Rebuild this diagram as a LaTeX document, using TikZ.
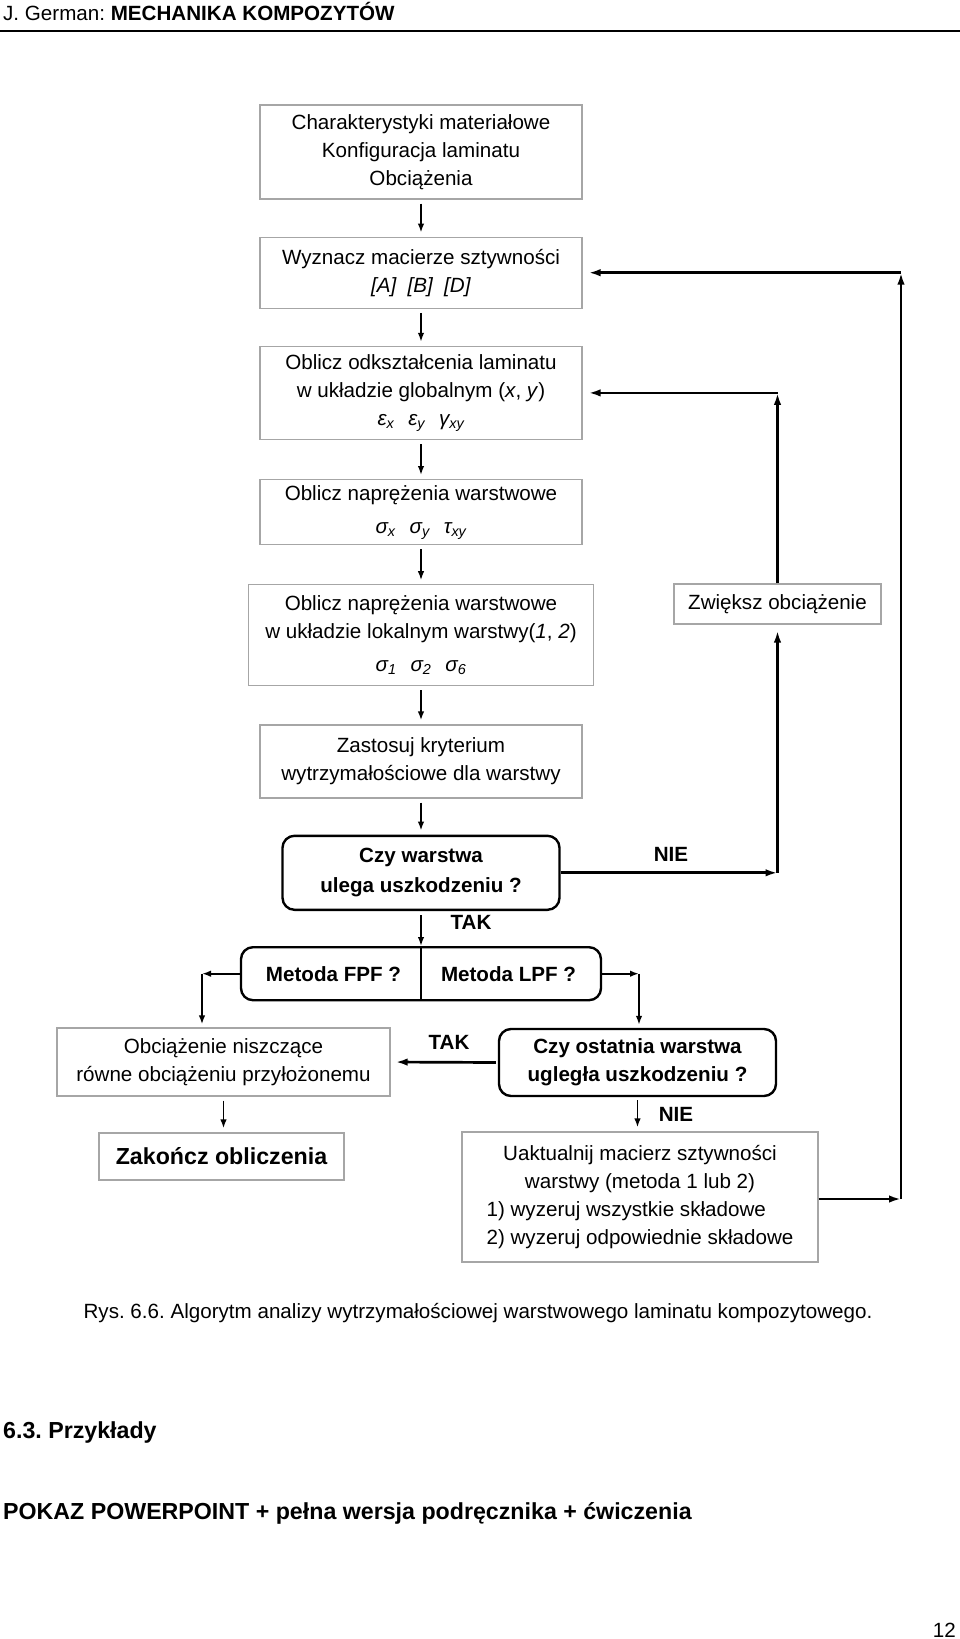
\documentclass[tikz,border=0pt]{standalone}
\usepackage{fontspec}
\setmainfont{Liberation Sans}
\usepackage{tikz}
\usetikzlibrary{positioning,arrows.meta}
\newcommand{\boxfont}{\fontsize{20.6}{28}\selectfont}
\newcommand{\bigfont}{\fontsize{23.2}{30}\selectfont}
\newcommand{\gr}[2]{{\itshape #1}\textsubscript{\itshape #2}}
\frenchspacing

\begin{document}
\begin{tikzpicture}[
            x=1pt, y=-1pt,
            every node/.style={font=\boxfont},
            block/.style={rectangle, draw=black!35, line width=1.2pt, minimum width=322pt, align=center, inner ysep=2pt},
            query/.style={rectangle, draw, rounded corners=12pt, line width=2.4pt, align=center, font=\boxfont\bfseries, inner ysep=2pt},
            answer/.style={font=\boxfont\bfseries},
            arrow/.style={-{Latex[length=9pt,width=6.5pt]}, line width=1.7pt},
            feedback/.style={-{Latex[length=12pt,width=7.5pt]}, line width=2.7pt}
        ]
            \useasboundingbox (0,0) rectangle (960,1639);

            % Header
            \node[anchor=base west, inner sep=0pt] (head) at (3,20.5) {J. German: \textbf{MECHANIKA KOMPOZYTÓW}};
            \draw[line width=2pt] (0,31) -- (960,31);

            % Nodes
            \node[block, minimum height=94pt] (input) at (421,152) {Charakterystyki materiałowe\\Konfiguracja laminatu\\Obciążenia};
            \node[block, minimum height=71pt, below=37pt of input] (stiff) {Wyznacz macierze sztywności\\\textit{[A]}\hspace{11pt}\textit{[B]}\hspace{11pt}\textit{[D]}};
            \node[block, minimum height=93pt, below=37pt of stiff] (strain) {Oblicz odkształcenia laminatu\\w układzie globalnym (\textit{x}, \textit{y})\\\gr{ε}{x}\hspace{14pt}\gr{ε}{y}\hspace{14pt}\gr{γ}{xy}};
            \node[block, minimum height=65pt, below=39pt of strain] (stress) {Oblicz naprężenia warstwowe\\[5pt]\gr{σ}{x}\hspace{14pt}\gr{σ}{y}\hspace{14pt}\gr{τ}{xy}};
            \node[block, minimum width=345pt, minimum height=101pt, below=39pt of stress] (local) {Oblicz naprężenia warstwowe\\w układzie lokalnym warstwy(\textit{1}, \textit{2})\\[5pt]\gr{σ}{1}\hspace{14pt}\gr{σ}{2}\hspace{14pt}\gr{σ}{6}};
            \node[block, minimum height=73pt, below=38pt of local] (crit) {Zastosuj kryterium\\wytrzymałościowe dla warstwy};
            \node[query, minimum width=277pt, minimum height=74pt, below=36pt of crit] (fail) {Czy warstwa\\[2pt]ulega uszkodzeniu ?};
            \node[query, minimum width=360pt, minimum height=53pt, below=35pt of fail] (method) {Metoda FPF ?\hspace{40pt}Metoda LPF ?};

            \node[block, minimum width=207pt, minimum height=40pt] (incr) at (777.5,604) {Zwiększ obciążenie};
            \node[block, minimum width=333pt, minimum height=68pt] (ultload) at (223.5,1062) {Obciążenie niszczące\\równe obciążeniu przyłożonemu};
            \node[block, minimum width=245pt, minimum height=47pt, font=\bigfont\bfseries] (finish) at (221.5,1156.5) {Zakończ obliczenia};
            \node[query, minimum width=277pt, minimum height=67pt] (last) at (637.5,1062.5) {Czy ostatnia warstwa\\ugległa uszkodzeniu ?};
            \node[block, minimum width=356pt, minimum height=130pt] (update) at (640,1197) {\begin{tabular}{@{}l@{}}
                \multicolumn{1}{@{}c@{}}{Uaktualnij macierz sztywności}\\
                \multicolumn{1}{@{}c@{}}{warstwy (metoda 1 lub 2)}\\
                1) wyzeruj wszystkie składowe\\
                2) wyzeruj odpowiednie składowe
            \end{tabular}};

            % Corners
            \coordinate (outerb) at (901,1199);
            \coordinate (outert) at (stiff.east -| outerb);
            \coordinate (innert) at (strain.east -| incr.north);
            \coordinate (innerb) at (fail.east -| incr.south);
            \coordinate (flx) at (202,0);
            \coordinate (fl) at (method.west -| flx);
            \coordinate (frx) at (639,0);
            \coordinate (fr) at (method.east -| frx);

            % Arrows
            \draw[arrow, shorten <=4pt, shorten >=4pt] (input) -- (stiff);
            \draw[arrow, shorten <=4pt, shorten >=4pt] (stiff) -- (strain);
            \draw[arrow, shorten <=4pt, shorten >=4pt] (strain) -- (stress);
            \draw[arrow, shorten <=4pt, shorten >=4pt] (stress) -- (local);
            \draw[arrow, shorten <=4pt, shorten >=4pt] (local) -- (crit);
            \draw[arrow, shorten <=4pt, shorten >=4pt] (crit) -- (fail);
            \draw[arrow, shorten <=4pt] (fail) -- (method);
            \draw[line width=1.5pt] (method.north) -- (method.south);

            \draw[arrow] (method.west) -- (fl);
            \draw[arrow, shorten >=3pt] (fl) -- (fl |- ultload.north);
            \draw[arrow] (method.east) -- (fr);
            \draw[arrow, shorten >=3pt] (fr) -- (fr |- last.north);
            \draw[feedback, shorten <=2pt, shorten >=5pt] (last.west) -- (ultload.east);
            \draw[arrow, shorten <=4pt, shorten >=4pt] (ultload.south) -- (ultload.south |- finish.north);
            \draw[arrow, shorten <=3pt, shorten >=4pt] (last.south) -- (last.south |- update.north);

            \draw[feedback] (update.east |- outerb) -- (outerb);
            \draw[feedback] (outerb) -- (outert);
            \draw[feedback, shorten >=6pt] (outert) -- (stiff.east);
            \draw[feedback] (fail.east) -- (innerb);
            \draw[feedback, shorten >=6pt] (innerb) -- (incr.south);
            \draw[feedback] (incr.north) -- (innert);
            \draw[feedback, shorten >=6pt] (innert) -- (strain.east);

            % Labels
            \node[answer] (nie1) at (671,854) {NIE};
            \node[answer] (tak1) at (471,922) {TAK};
            \node[answer] (tak2) at (449,1042) {TAK};
            \node[answer] (nie2) at (676,1114) {NIE};

            % Text below
            \node (caption) at (478,1313) {Rys. 6.6. Algorytm analizy wytrzymałościowej warstwowego laminatu kompozytowego.};
            \node[anchor=west, font=\bigfont\bfseries, inner sep=0pt] (sect) at (3,1432) {6.3. Przykłady};
            \node[anchor=west, font=\bigfont\bfseries, inner sep=0pt] (show) at (3,1513) {POKAZ POWERPOINT + pełna wersja podręcznika + ćwiczenia};
            \node[anchor=east, inner sep=0pt] (page) at (956,1630) {12};
        \end{tikzpicture}
\end{document}
